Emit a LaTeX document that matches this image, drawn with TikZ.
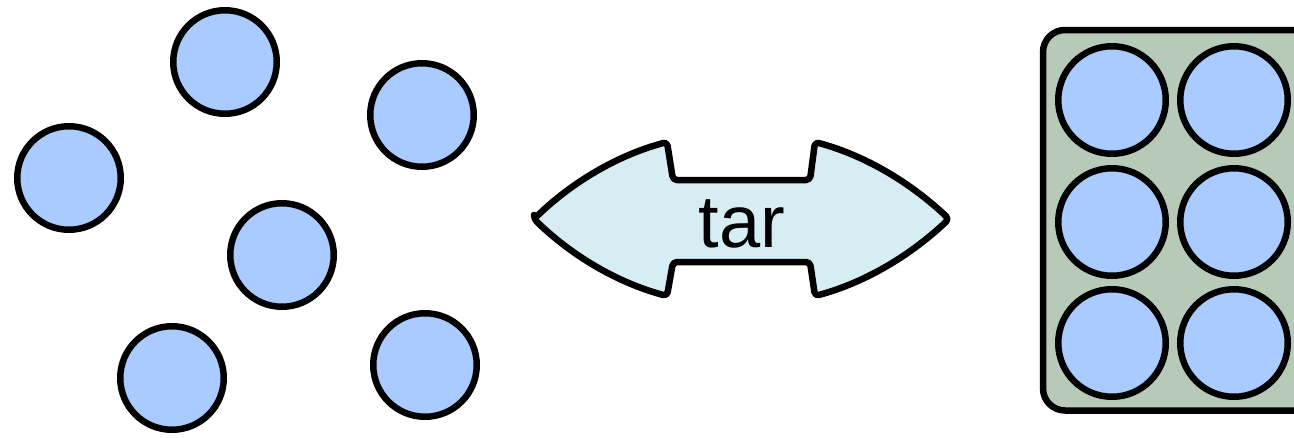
\documentclass[tikz,border=0pt]{standalone}
\usepackage{fontspec}
\setsansfont{Liberation Sans}
\definecolor{ballblue}{RGB}{169,203,255}
\definecolor{boxgreen}{RGB}{183,201,183}
\definecolor{arrowcyan}{RGB}{214,237,243}
\begin{document}
\begin{tikzpicture}[x=1pt,y=-1pt,line width=6.5pt,line join=round,
		ball/.style={circle,draw=black,fill=ballblue,inner sep=0pt,minimum size=103.5pt},
		packed/.style={ball,minimum size=107.5pt}]
		\useasboundingbox (0,0) rectangle (1294,437);
		\fill[color=white] (0,0) rectangle (1294,437);
		% loose files
		\node[ball] (f1) at (225,62) {};
		\node[ball] (f2) at (422,115) {};
		\node[ball] (f3) at (69,178) {};
		\node[ball] (f4) at (282,255) {};
		\node[ball] (f5) at (172,378) {};
		\node[ball] (f6) at (425,365) {};
		% double arrow
		\filldraw[fill=arrowcyan,draw=black,rounded corners=4pt] (534,219) .. controls (570,184) and (615,156) .. (667,142)
			-- (673,180) -- (810,180) -- (815,142) .. controls (867,156) and (912,184) .. (949,219)
			.. controls (912,254) and (867,282) .. (815,296) -- (810,262) -- (673,262) -- (667,296)
			.. controls (615,282) and (570,254) .. cycle;
		\node[anchor=base,inner sep=0pt,font=\sffamily\fontsize{74}{80}\selectfont] (tar) at (742,247) {tar};
		% archive
		\filldraw[fill=boxgreen,draw=black,rounded corners=22pt] (1043,30) rectangle (1330,410.5);
		\node[packed] (p1) at (1112,100) {};
		\node[packed] (p2) at (1234,100) {};
		\node[packed] (p3) at (1112,222) {};
		\node[packed] (p4) at (1234,222) {};
		\node[packed] (p5) at (1112,343) {};
		\node[packed] (p6) at (1234,343) {};
	\end{tikzpicture}
\end{document}
